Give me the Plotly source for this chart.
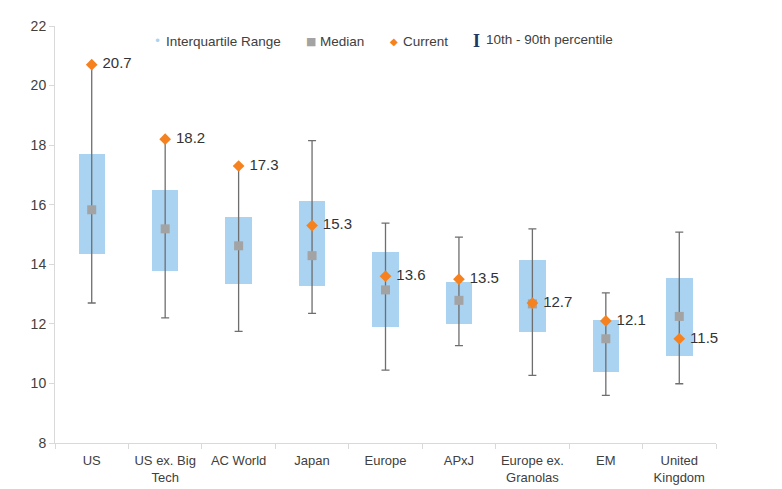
import plotly.graph_objects as go

categories = ["US", "US ex. Big<br>Tech", "AC World", "Japan", "Europe", "APxJ",
              "Europe ex.<br>Granolas", "EM", "United<br>Kingdom"]
p10 = [12.7, 12.2, 11.75, 12.35, 10.45, 11.27, 10.27, 9.6, 9.99]
p25 = [14.35, 13.76, 13.35, 13.27, 11.88, 11.99, 11.71, 10.40, 10.91]
median = [15.83, 15.19, 14.62, 14.29, 13.14, 12.79, 12.67, 11.50, 12.25]
p75 = [17.71, 16.51, 15.58, 16.13, 14.40, 13.42, 14.15, 12.14, 13.54]
p90 = [20.7, 18.19, 17.3, 18.15, 15.38, 14.91, 15.19, 13.04, 15.08]
current = [20.7, 18.2, 17.3, 15.3, 13.6, 13.5, 12.7, 12.1, 11.5]

FONT = "Liberation Sans, Arial, sans-serif"
TXT = "#404040"
BLUE = "#a9d3f1"
GRAY = "#a3a3a3"
ORANGE = "#f5821f"

fig = go.Figure()

# Interquartile range boxes
fig.add_trace(go.Bar(
    x=categories, y=[b - a for a, b in zip(p25, p75)], base=p25,
    width=0.36, marker=dict(color=BLUE, line=dict(width=0)),
    showlegend=False, hoverinfo="skip"))

# 10th-90th percentile whiskers
fig.add_trace(go.Scatter(
    x=categories, y=[(a + b) / 2 for a, b in zip(p10, p90)],
    mode="markers", marker=dict(opacity=0, size=1),
    error_y=dict(type="data", symmetric=True,
                 array=[(b - a) / 2 for a, b in zip(p10, p90)],
                 color="#6e6e6e", thickness=1.3, width=4),
    showlegend=False, hoverinfo="skip"))

# Median
fig.add_trace(go.Scatter(
    x=categories, y=median, mode="markers",
    marker=dict(symbol="square", size=9, color=GRAY),
    showlegend=False))

# Current
fig.add_trace(go.Scatter(
    x=categories, y=current, mode="markers+text",
    marker=dict(symbol="diamond", size=9, color=ORANGE),
    text=["\u00a0" + f"{v:.1f}" for v in current], textposition="middle right",
    textfont=dict(family=FONT, size=15, color="#333333"),
    cliponaxis=False, showlegend=False))

# Page offset of the plotly div (body margin)
OFF = 8
W, H, L, B = 661, 417, 55, 443
def px(x):
    return (x - L) / W
def py(y):
    return (B - y) / H

legend_items = [
    (157, "•", BLUE, 12, 166, "Interquartile Range"),
    (311, "■", GRAY, 11, 320, "Median"),
    (394, "◆", ORANGE, 10, 403, "Current"),
]
for sx, sym, col, ssz, tx, label in legend_items:
    fig.add_annotation(x=px(sx), y=py(41), xref="paper", yref="paper",
                       text=sym, showarrow=False, xanchor="center", yanchor="middle",
                       font=dict(family="DejaVu Sans", size=ssz, color=col))
    fig.add_annotation(x=px(tx - 2), y=py(41), xref="paper", yref="paper",
                       text=label, showarrow=False, xanchor="left", yanchor="middle",
                       font=dict(family=FONT, size=13.5, color=TXT))
fig.add_annotation(x=px(476), y=py(41), xref="paper", yref="paper",
                   text="<b>I</b>", showarrow=False, xanchor="center", yanchor="middle",
                   font=dict(family="Liberation Serif", size=18, color="#1f3864"))
fig.add_annotation(x=px(484), y=py(39), xref="paper", yref="paper",
                   text="10th - 90th percentile", showarrow=False, xanchor="left",
                   yanchor="middle", font=dict(family=FONT, size=13.5, color=TXT))

fig.update_layout(
    width=782, height=489,
    margin=dict(l=L - OFF, r=782 - (L - OFF) - W, t=26 - OFF, b=489 - (26 - OFF) - H),
    paper_bgcolor="white", plot_bgcolor="white",
    font=dict(family=FONT, size=13, color=TXT),
    bargap=0, showlegend=False,
    xaxis=dict(showline=True, linecolor="#d9d9d9", linewidth=1,
               ticks="outside", tickson="boundaries", ticklen=5, tickcolor="#d9d9d9",
               showgrid=False, zeroline=False, range=[-0.5, 8.5], automargin=False,
               ticklabelstandoff=5, tickangle=0,
               tickfont=dict(family=FONT, size=13, color=TXT)),
    yaxis=dict(range=[8, 22], dtick=2, showline=True, linecolor="#d9d9d9", linewidth=1,
               ticks="outside", ticklen=5, tickcolor="#d9d9d9",
               showgrid=False, zeroline=False, automargin=False,
               tickfont=dict(family=FONT, size=14, color=TXT)),
)

fig.write_html("out.html")
